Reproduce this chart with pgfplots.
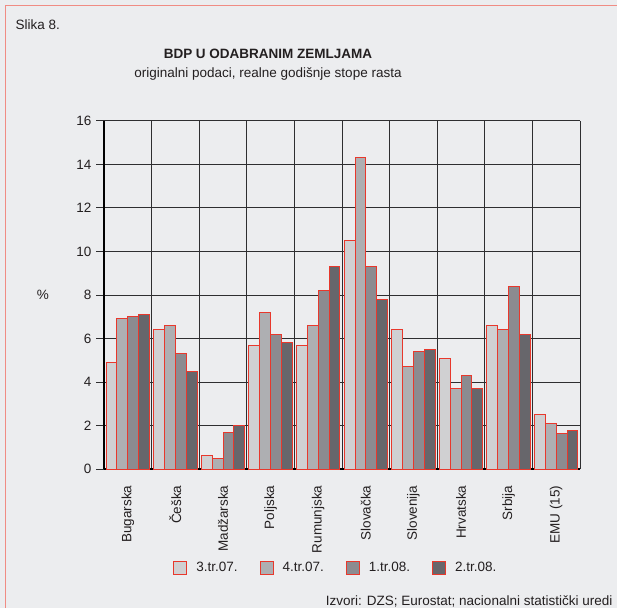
\documentclass[border=0pt]{standalone}
\usepackage{pgfplots}
\pgfplotsset{compat=1.18}
\usepackage{fontspec}
\setmainfont{Liberation Sans}

\definecolor{bg}{HTML}{ECEDEF}
\definecolor{frame}{HTML}{F08C84}
\definecolor{edge}{HTML}{E8382C}
\definecolor{txt}{HTML}{231F20}
\definecolor{gridc}{HTML}{2E2E30}
\definecolor{qa}{HTML}{D0D0D2}
\definecolor{qb}{HTML}{AEAFB2}
\definecolor{qc}{HTML}{8C8B90}
\definecolor{qd}{HTML}{67666B}

\pgfplotstableread{
x  a    b    c    d
0  4.9  6.9  7.0  7.1
1  6.4  6.6  5.3  4.5
2  0.6  0.5  1.7  2.0
3  5.7  7.2  6.2  5.8
4  5.7  6.6  8.2  9.3
5  10.5 14.3 9.3  7.8
6  6.4  4.7  5.4  5.5
7  5.1  3.7  4.3  3.7
8  6.6  6.4  8.4  6.2
9  2.5  2.1  1.65 1.75
}\gdp

\begin{document}
\fontsize{13.5}{16}\selectfont\color{txt}
\begin{tikzpicture}
\path[use as bounding box, fill=bg] (0,0) rectangle (617pt,608pt);
\draw[frame, line width=1.5pt] (5.5pt,0) -- (5.5pt,602.5pt) -- (617pt,602.5pt);

\node[anchor=west] at (11pt,583pt) {Slika 8.};
\node at (268pt,554pt) {\bfseries BDP U ODABRANIM ZEMLJAMA};
\node at (268pt,534pt) {originalni podaci, realne godišnje stope rasta};
\node at (43pt,313pt) {\%};
\node[anchor=east] at (617pt,7pt) {Izvori: DZS; Eurostat; nacionalni statistički uredi};

\begin{axis}[
    at={(104pt,139pt)}, anchor=south west,
    scale only axis,
    width=476pt, height=348pt,
    ybar=0pt,
    bar width=0.227,
    xmin=-0.5, xmax=9.5,
    ymin=0, ymax=16,
    ytick={0,2,...,16},
    xtick={0,...,9},
    xticklabels={Bugarska,Češka,Madžarska,Poljska,Rumunjska,Slovačka,Slovenija,Hrvatska,Srbija,EMU (15)},
    minor xtick={-0.5,0.5,...,9.5},
    xticklabel style={rotate=90, anchor=east},
    xticklabel shift=4pt,
    tick align=outside,
    major tick length=8pt,
    minor tick length=8pt,
    xtick style={draw=none},
    ytick style={gridc, line width=1pt},
    minor tick style={gridc, line width=1pt},
    ymajorgrids=true,
    xminorgrids=true,
    major grid style={gridc, line width=1pt},
    minor grid style={gridc, line width=1pt},
    axis x line*=bottom,
    axis y line*=left,
    axis line style={black, line width=2.5pt},
    /pgf/number format/assume math mode=true,
    tick label style={font=\fontsize{13.5}{16}\selectfont, text=txt},
    every axis plot/.append style={draw=edge, line width=1pt},
    legend columns=4,
    legend style={at={(0.487,-0.284)}, anchor=center, draw=none, fill=none,
        font=\fontsize{13.5}{16}\selectfont, text=txt,
        /tikz/every odd column/.append style={column sep=7pt},
        /tikz/every even column/.append style={column sep=20pt}},
    legend image code/.code={\draw[#1, line width=1pt] (0pt,-6.5pt) rectangle (13pt,6.5pt);},
]
\addplot[fill=qa] table[x=x, y=a] {\gdp};
\addplot[fill=qb] table[x=x, y=b] {\gdp};
\addplot[fill=qc] table[x=x, y=c] {\gdp};
\addplot[fill=qd] table[x=x, y=d] {\gdp};
\legend{3.tr.07., 4.tr.07., 1.tr.08., 2.tr.08.}
\end{axis}
\end{tikzpicture}
\end{document}
